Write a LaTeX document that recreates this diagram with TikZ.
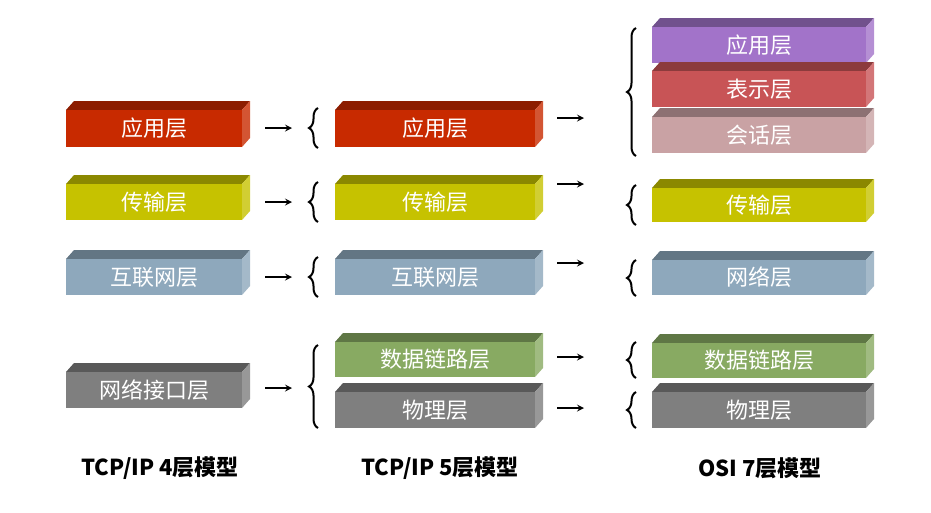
\documentclass[tikz,border=0pt]{standalone}
\usepackage{fontspec}
\setmainfont{Liberation Sans}
\newfontfamily\cjk{Noto Sans CJK SC}
\usetikzlibrary{decorations.pathreplacing}
\definecolor{appred}{HTML}{C82A00}
\definecolor{tryel}{HTML}{C6C200}
\definecolor{netblue}{HTML}{8EA8BC}
\definecolor{ifgrey}{HTML}{7F7F7F}
\definecolor{lnkgreen}{HTML}{88AA62}
\definecolor{prspurple}{HTML}{A273C9}
\definecolor{prsrose}{HTML}{C85456}
\definecolor{sespink}{HTML}{C9A2A4}
\tikzset{
  layertext/.style={text=white, font=\cjk\fontsize{22}{22}\selectfont},
  brc/.style={decorate, decoration={brace, amplitude=9pt}, line width=2pt},
  arr/.style={-stealth, line width=2pt},
  model/.style={font=\bfseries\fontsize{22}{22}\selectfont\cjk}
}
% 立体色块: 名称, 左, 上, 右, 下, 颜色, 文字
\newcommand\slab[7]{
  \fill[#6!70!black] (#2,#3) -- ++(8,-9) -- (#4+8,#3-9) -- (#4,#3) -- cycle;
  \fill[#6!80!white] (#4,#3) -- (#4+8,#3-9) -- (#4+8,#5-9) -- (#4,#5) -- cycle;
  \fill[#6] (#2,#3) rectangle (#4,#5);
  \node[layertext] (#1) at ({(#2+#4)/2},{(#3+#5)/2}) {#7};
}
\begin{document}
\begin{tikzpicture}[x=1pt,y=-1pt]
  \useasboundingbox (0,0) rectangle (931,512);

  % TCP/IP 4层
  \slab{a4}{66}{110}{242}{147}{appred}{应用层}
  \slab{t4}{66}{184}{242}{220}{tryel}{传输层}
  \slab{n4}{66}{259}{242}{295}{netblue}{互联网层}
  \slab{i4}{66}{372}{242}{408}{ifgrey}{网络接口层}

  % TCP/IP 5层
  \slab{a5}{335}{110}{535}{147}{appred}{应用层}
  \slab{t5}{335}{184}{535}{220}{tryel}{传输层}
  \slab{n5}{335}{259}{535}{295}{netblue}{互联网层}
  \slab{d5}{335}{342}{535}{377}{lnkgreen}{数据链路层}
  \slab{p5}{335}{392}{535}{428}{ifgrey}{物理层}

  % OSI 7层
  \slab{a7}{652}{27}{866}{63}{prspurple}{应用层}
  \slab{r7}{652}{71}{866}{107}{prsrose}{表示层}
  \slab{s7}{652}{117}{866}{153}{sespink}{会话层}
  \slab{t7}{652}{188}{866}{222}{tryel}{传输层}
  \slab{n7}{652}{260}{866}{295}{netblue}{网络层}
  \slab{d7}{652}{343}{866}{378}{lnkgreen}{数据链路层}
  \slab{p7}{652}{392}{866}{428}{ifgrey}{物理层}

  % 箭头与括号
  \foreach \y/\na/\nb in {128/a4/a5, 202/t4/t5, 277/n4/n5}{
    \coordinate (s\na) at (265,\y);
    \coordinate (e\na) at (292,\y);
    \draw[arr] (s\na) -- (e\na);
    \draw[brc] (318,\y+20) -- (318,\y-20);
  }
  \coordinate (si4) at (265,388);
  \coordinate (ei4) at (292,388);
  \draw[arr] (si4) -- (ei4);
  \draw[brc] (318,428) -- (318,345);

  \foreach \y/\yb/\h in {118/92/64, 184/205/20, 263/278/18, 357/360/18, 408/410/18}{
    \coordinate (sa\y) at (557,\y);
    \coordinate (ea\y) at (584,\y);
    \draw[arr] (sa\y) -- (ea\y);
    \draw[brc] (636,\yb+\h) -- (636,\yb-\h);
  }

  % 标题
  \node[model] (m4) at (160,468) {TCP/IP 4层模型};
  \node[model] (m5) at (440,468) {TCP/IP 5层模型};
  \node[model] (m7) at (760,468) {OSI 7层模型};
\end{tikzpicture}
\end{document}
